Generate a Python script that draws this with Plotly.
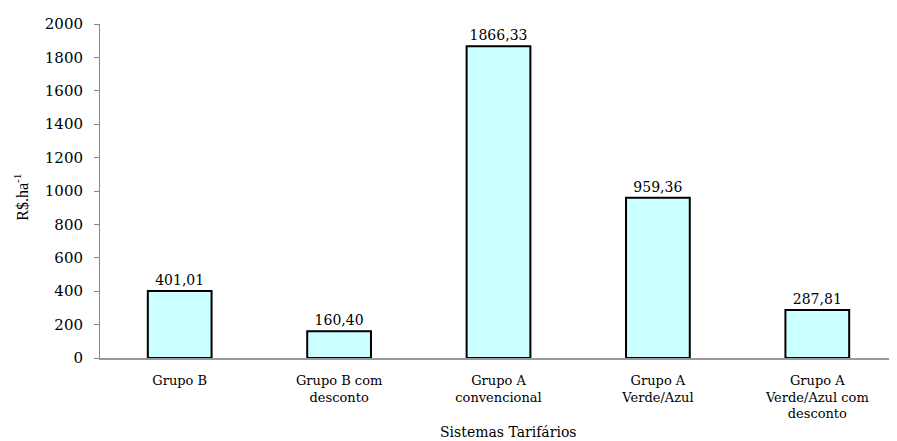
import plotly.graph_objects as go

categories = ["Grupo B", "Grupo B com<br>desconto", "Grupo A<br>convencional",
              "Grupo A<br>Verde/Azul", "Grupo A<br>Verde/Azul com<br>desconto"]
values = [401.01, 160.40, 1866.33, 959.36, 287.81]
y_ticks = [0, 200, 400, 600, 800, 1000, 1200, 1400, 1600, 1800, 2000]
y_title = "R$.ha<sup>-1</sup>"
x_title = "Sistemas Tarifários"

wide = "DejaVu Serif"
times = "Liberation Serif"

fig = go.Figure(go.Bar(
    x=categories, y=values,
    marker=dict(color="#CCFFFF", line=dict(color="black", width=2)),
    texttemplate="%{y:.2f}", textposition="outside",
    textfont=dict(family=wide, size=14, color="black"),
    cliponaxis=False,
))

# page body adds an 8px offset, margins compensate
fig.update_layout(
    width=889, height=433,
    margin=dict(l=92, r=0, t=16, b=83),
    paper_bgcolor="white", plot_bgcolor="white",
    separators=",.",
    bargap=0.6,
    showlegend=False,
    font=dict(family=wide, size=13, color="black"),
    annotations=[
        dict(text=y_title, xref="paper", yref="paper", x=-0.099, y=0.48,
             xanchor="center", yanchor="middle", textangle=-90, showarrow=False,
             font=dict(family=times, size=16, color="black")),
        dict(text=x_title, xref="paper", yref="paper", x=0.512, y=-0.222,
             xanchor="center", yanchor="middle", showarrow=False,
             font=dict(family=wide, size=14, color="black")),
    ],
)
fig.update_yaxes(
    range=[0, 2000], tickvals=y_ticks, showgrid=False,
    showline=True, linecolor="#888888", linewidth=1,
    ticks="outside", ticklen=5, tickcolor="#888888",
    tickfont=dict(family=wide, size=15, color="black"),
    ticklabelstandoff=8,
    zeroline=False, automargin=False,
)
fig.update_xaxes(
    showline=True, linecolor="#999999", linewidth=2,
    ticks="", tickfont=dict(family=wide, size=13, color="black"),
    ticklabelstandoff=9,
    automargin=False,
)

fig.write_html("out.html")
